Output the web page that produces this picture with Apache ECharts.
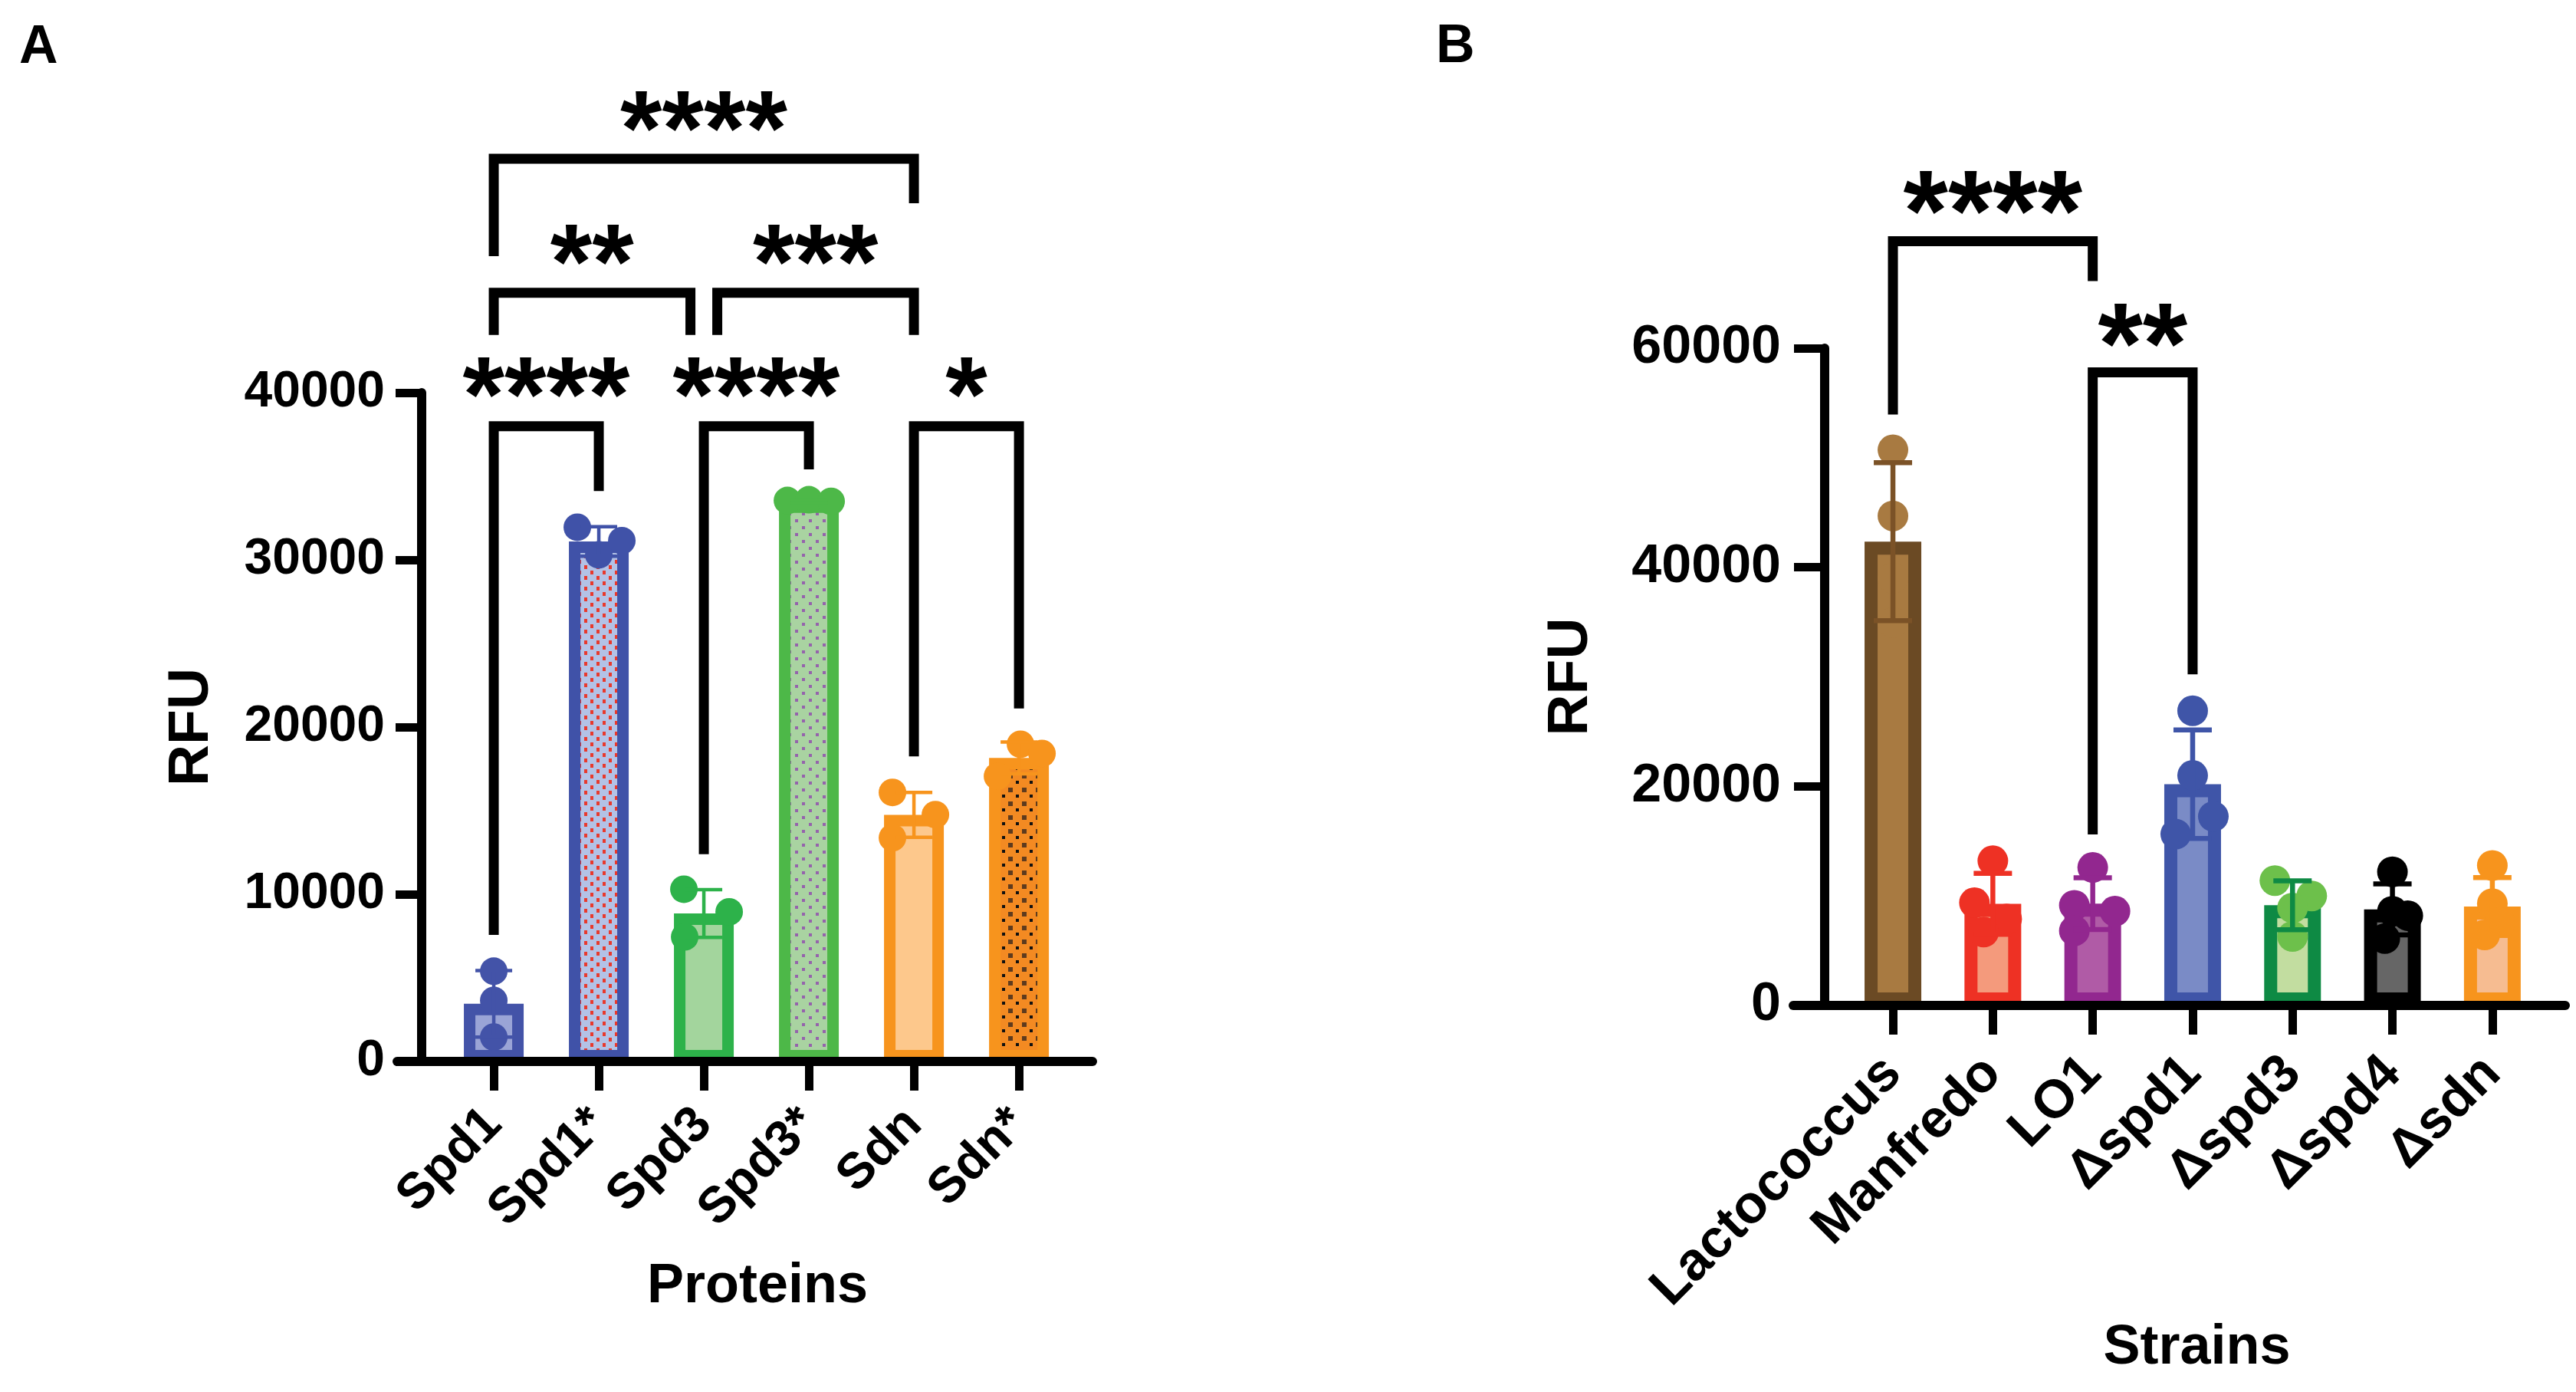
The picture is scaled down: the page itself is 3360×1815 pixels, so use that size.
<!DOCTYPE html>
<html><head><meta charset="utf-8">
<script src="https://cdn.jsdelivr.net/npm/echarts@6/dist/echarts.min.js"></script>
<style>html,body{margin:0;padding:0;background:#fff}#c{width:3360px;height:1815px}</style>
</head><body><div id="c"></div>
<script>
// ---------- Panel A data ----------
const proteins = ['Spd1', 'Spd1*', 'Spd3', 'Spd3*', 'Sdn', 'Sdn*'];
const proteinMeans = [3450, 31100, 8850, 33500, 14750, 18150];
const proteinSD = [1990, 880, 1430, 80, 1340, 950];
const proteinPoints = [
  [5400, 3650, 1460],
  [31950, 31150, 30300],
  [10300, 8950, 7450],
  [33550, 33600, 33500],
  [16090, 14760, 13380],
  [18970, 18420, 17060]
];
const proteinTicks = [0, 10000, 20000, 30000, 40000];
// [fromIndex, toIndex, barHeight, leftLegEnd, rightLegEnd, starHeight]
const proteinBrackets = [
  [0, 1, 37990, 7570, 34120, 40970],
  [2, 3, 37990, 12400, 35410, 40970],
  [4, 5, 37990, 18250, 21110, 40970],
  [0, 2, 45970, 43450, 43450, 48900],
  [2, 4, 45970, 43450, 43450, 48900],
  [0, 4, 53990, 48170, 51330, 56880]
];
const proteinStars = ['****', '****', '*', '**', '***', '****'];

// ---------- Panel B data ----------
const strains = ['Lactococcus', 'Manfredo', 'LO1', 'Δspd1', 'Δspd3', 'Δspd4', 'Δsdn'];
const strainMeans = [42340, 9275, 9290, 20200, 9150, 8775, 9030];
const strainSD = [7210, 2790, 2360, 4950, 2235, 2330, 2650];
const strainPoints = [
  [50720, 44690, 39000, 34950],
  [13210, 9380, 7900, 6700],
  [12600, 9140, 8610, 6810],
  [26900, 21000, 17250, 15640],
  [11400, 10000, 8900, 6300],
  [12200, 8600, 8200, 6100],
  [12780, 9300, 7600, 6440]
];
const strainTicks = [0, 20000, 40000, 60000];
const strainBrackets = [
  [0, 2, 69770, 53940, 66120, 74180],
  [2, 3, 57790, 15620, 30220, 62060]
];
const strainStars = ['****', '**'];

// ---------- styles ----------
const FONT = '"Liberation Sans", Arial, sans-serif';
function pattern(w, h, bg, draw) {
  const c = document.createElement('canvas');
  c.width = w; c.height = h;
  const g = c.getContext('2d');
  g.fillStyle = bg; g.fillRect(0, 0, w, h);
  draw(g);
  return { image: c, repeat: 'repeat' };
}
const patSpd1s = pattern(16, 14, '#B3C2E6', g => { g.fillStyle = '#E8392D'; g.fillRect(2, 2, 4, 5); g.fillRect(10, 9, 4, 5); });
const patSpd3s = pattern(18, 18, '#A9D3A1', g => { g.fillStyle = '#9563AC'; g.fillRect(2, 2, 4, 4); g.fillRect(11, 11, 4, 4); });
const patSdns = pattern(18, 18, '#F38A22', g => { g.fillStyle = '#5E3B1E'; g.fillRect(1, 1, 6, 6); g.fillStyle = '#111'; g.fillRect(11, 10, 4, 4); });

const styleA = [
  { fill: '#9AA4D6', border: '#4353A8', dot: '#4353A8' },
  { fill: patSpd1s, border: '#4052A8', dot: '#4052A8' },
  { fill: '#A3D59D', border: '#2DB24A', dot: '#2DB24A' },
  { fill: patSpd3s, border: '#4DB848', dot: '#4DB848' },
  { fill: '#FDC88C', border: '#F7941D', dot: '#F7941D' },
  { fill: patSdns, border: '#F7941D', dot: '#F7941D' }
];
const jitterA = [[0, 0, 0], [-28, 30, 0], [-26, 33, -25], [-28, 0, 29], [-28, 28, -28], [2, 30, -28]];

const styleB = [
  { fill: '#A87A41', border: '#6B4A24', dot: '#A87A41', err: '#7B5227' },
  { fill: '#F49A7C', border: '#EE3124', dot: '#EE3124', err: '#EE3124' },
  { fill: '#B05BA6', border: '#92278F', dot: '#92278F', err: '#92278F' },
  { fill: '#7A8BC6', border: '#3F55A8', dot: '#3F55A8', err: '#3F55A8' },
  { fill: '#C2DDA0', border: '#0E8A44', dot: '#6DC04B', err: '#0E8A44' },
  { fill: '#666666', border: '#000000', dot: '#000000', err: '#000000' },
  { fill: '#F6BC91', border: '#F7941D', dot: '#F7941D', err: '#F7941D' }
];
const jitterB = [[0, 0, 0, 0], [0, -24, 18, -12], [0, -24, 29, -24], [0, 0, 27, -22], [-23, 25, 0, 0], [0, 0, 20, -10], [0, 0, 10, -10]];

// bracket end insets (px) for panel A middle brackets
const insetA = [[0, 0], [0, 0], [0, 0], [0, -17.5], [17.5, 0], [0, 0]];
const insetB = [[0, 0], [0, 0]];

function makePanel(k, o) {
  const series = [];
  series.push({
    type: 'bar', xAxisIndex: k, yAxisIndex: k, barWidth: o.barW, z: 2,
    data: o.means.map((m, i) => ({
      value: [i, m],
      itemStyle: { color: o.st[i].fill, borderColor: o.st[i].border, borderWidth: o.bw }
    }))
  });
  const pts = [];
  o.points.forEach((arr, i) => arr.forEach((v, j) => pts.push({
    value: [i, v], symbolOffset: [o.jit[i][j], 0], itemStyle: { color: o.st[i].dot, opacity: 1 }
  })));
  series.push({ type: 'scatter', xAxisIndex: k, yAxisIndex: k, z: 3, symbolSize: o.dot,
    itemStyle: { opacity: 1 }, data: pts });
  series.push({
    type: 'custom', xAxisIndex: k, yAxisIndex: k, z: 4,
    data: o.means.map((m, i) => [i, m - o.sd[i], m + o.sd[i]]),
    renderItem: (p, api) => {
      const i = p.dataIndex;
      const lo = api.coord([api.value(0), api.value(1)]);
      const hi = api.coord([api.value(0), api.value(2)]);
      const c = o.st[i].err || o.st[i].border;
      const hw = o.capHW;
      const ls = { stroke: c, lineWidth: o.elw };
      return { type: 'group', children: [
        { type: 'line', shape: { x1: lo[0], y1: lo[1], x2: hi[0], y2: hi[1] }, style: ls },
        { type: 'line', shape: { x1: hi[0] - hw, y1: hi[1], x2: hi[0] + hw, y2: hi[1] }, style: ls },
        { type: 'line', shape: { x1: lo[0] - hw, y1: lo[1], x2: lo[0] + hw, y2: lo[1] }, style: ls }
      ] };
    }
  });
  series.push({
    type: 'custom', xAxisIndex: k, yAxisIndex: k, z: 5, clip: false,
    data: o.brackets,
    renderItem: (p, api) => {
      const b = o.brackets[p.dataIndex];
      const ins = o.insets[p.dataIndex];
      const a0 = api.coord([b[0], b[2]]), a1 = api.coord([b[1], b[2]]);
      const l0 = api.coord([b[0], b[3]]), l1 = api.coord([b[1], b[4]]);
      const s = api.coord([(b[0] + b[1]) / 2, b[5]]);
      const x0 = a0[0] + ins[0], x1 = a1[0] + ins[1];
      return { type: 'group', children: [
        { type: 'polyline', shape: { points: [[x0, l0[1]], [x0, a0[1]], [x1, a1[1]], [x1, l1[1]]] },
          style: { stroke: '#000', lineWidth: o.blw, fill: null, lineJoin: 'miter', lineCap: 'butt' } },
        { type: 'text', x: (x0 + x1) / 2, y: s[1] + o.starF * 0.23,
          style: { text: o.stars[p.dataIndex], fontSize: o.starF, fontWeight: 'bold', fontFamily: FONT,
            fill: '#000', align: 'center', verticalAlign: 'middle' } }
      ] };
    }
  });
  return series;
}

const A = { means: proteinMeans, sd: proteinSD, points: proteinPoints, st: styleA, jit: jitterA,
  brackets: proteinBrackets, stars: proteinStars, insets: insetA,
  barW: 78, bw: 15, elw: 4.5, capHW: 24, dot: 36, blw: 13, starF: 140 };
const B = { means: strainMeans, sd: strainSD, points: strainPoints, st: styleB, jit: jitterB,
  brackets: strainBrackets, stars: strainStars, insets: insetB,
  barW: 74, bw: 17, elw: 6.5, capHW: 25, dot: 40, blw: 13, starF: 150 };

function xAxisOf(k, cats, min, max, name, nameGap, margin, padL, fs) {
  const idx = cats.map((c, i) => i);
  return {
    type: 'value', gridIndex: k, min: min, max: max, z: 10,
    axisLine: { show: true, onZero: false, lineStyle: { color: '#000', width: 12 } },
    axisTick: { show: true, customValues: idx, length: 38, lineStyle: { color: '#000', width: 11 } },
    axisLabel: { show: true, customValues: idx, formatter: v => cats[Math.round(v)], rotate: 45, margin: margin,
      fontSize: fs, fontWeight: 'bold', fontFamily: FONT, color: '#000' },
    splitLine: { show: false },
    name: name, nameLocation: 'middle', nameGap: nameGap,
    nameTextStyle: { fontSize: 72, fontWeight: 'bold', fontFamily: FONT, color: '#000', padding: [0, 0, 0, padL] }
  };
}
function yAxisOf(k, ticks, offset, tickLen, margin, fs, nameGap) {
  return {
    type: 'value', gridIndex: k, min: ticks[0], max: ticks[ticks.length - 1], interval: ticks[1] - ticks[0],
    offset: offset, z: 10,
    axisLine: { show: true, onZero: false, lineStyle: { color: '#000', width: 12 } },
    axisTick: { show: true, length: tickLen, lineStyle: { color: '#000', width: 11 } },
    axisLabel: { margin: margin, fontSize: fs, fontWeight: 'bold', fontFamily: FONT, color: '#000',
      formatter: v => String(v) },
    splitLine: { show: false },
    name: 'RFU', nameLocation: 'middle', nameGap: nameGap,
    nameTextStyle: { fontSize: 75, fontWeight: 'bold', fontFamily: FONT, color: '#000' }
  };
}

const chart = echarts.init(document.getElementById('c'));
chart.setOption({
  animation: false,
  backgroundColor: '#fff',
  grid: [
    { left: 518, top: 512, width: 907, height: 872 },
    { left: 2339, top: 454, width: 1007, height: 857 }
  ],
  xAxis: [
    xAxisOf(0, proteins, -0.92, 5.70, 'Proteins', 258, 72, 33, 66),
    xAxisOf(1, strains, -0.998, 6.73, 'Strains', 411, 78, 46, 70)
  ],
  yAxis: [
    yAxisOf(0, proteinTicks, -32, 34, 48, 66, 262),
    yAxisOf(1, strainTicks, -41, 40, 57, 70, 293)
  ],
  graphic: [
    { type: 'text', left: 25, top: 28, style: { text: 'A', fontSize: 70, fontWeight: 'bold', fontFamily: FONT, fill: '#000' } },
    { type: 'text', left: 1873, top: 27, style: { text: 'B', fontSize: 70, fontWeight: 'bold', fontFamily: FONT, fill: '#000' } }
  ],
  series: [...makePanel(0, A), ...makePanel(1, B)]
});
</script>
</body></html>
